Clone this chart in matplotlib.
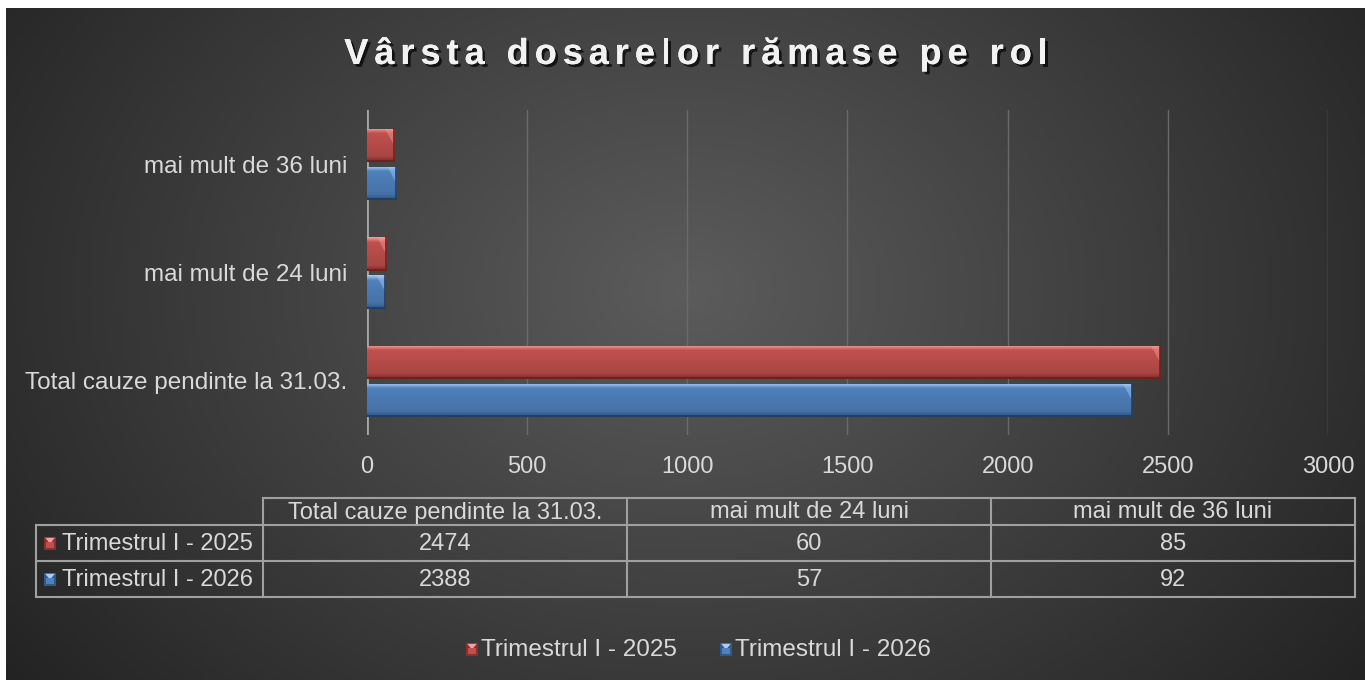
import numpy as np
import matplotlib
matplotlib.use("Agg")
import matplotlib.pyplot as plt
from matplotlib.patches import Rectangle, Polygon
from matplotlib.lines import Line2D
import matplotlib.patheffects as pe

# ---------------- data ----------------
categories = ["Total cauze pendinte la 31.03.", "mai mult de 24 luni", "mai mult de 36 luni"]
series_names = ["Trimestrul I - 2025", "Trimestrul I - 2026"]
values_2025 = [2474, 60, 85]
values_2026 = [2388, 57, 92]
x_ticks = [0, 500, 1000, 1500, 2000, 2500, 3000]
title = "Vârsta dosarelor rămase pe rol"

plt.rcParams['font.family'] = ['Liberation Sans', 'DejaVu Sans']
TXT = "#d9d9d9"
FS = 17

W, H = 1365, 680
fig = plt.figure(figsize=(W / 100, H / 100), dpi=100, facecolor="white")
renderer = fig.canvas.get_renderer()

def fx(px):
    return px / W

def fy(py):
    return 1 - py / H

# ---------------- background ----------------
bg = fig.add_axes([fx(6), 0, 1 - fx(6), fy(8)], zorder=-10)
gx, gy = np.meshgrid(np.linspace(0, 1, 400), np.linspace(0, 1, 200))
d = np.sqrt(((gx - 0.5) / 0.62) ** 2 + ((gy - 0.42) / 0.95) ** 2)
shade = np.clip(0.36 - 0.22 * d, 0.14, 0.36)
bg.imshow(np.dstack([shade] * 3), extent=[0, 1, 0, 1], aspect="auto", origin="upper")
bg.set_axis_off()

# ---------------- main axes ----------------
ax = fig.add_axes([fx(367), fy(435), fx(1328) - fx(367), fy(110) - fy(435)])
ax.set_facecolor("none")
ax.set_xlim(x_ticks[0], x_ticks[-1])
ax.set_ylim(-0.5, len(categories) - 0.5)

bar_h = 0.3
offs = [0.175, -0.175]
pal = {
    0: dict(light="#f0a09e", mid="#c0504d", dark="#8a2f2d", edge="#6e2220"),
    1: dict(light="#a9cdf5", mid="#4f81bd", dark="#30598d", edge="#223f66"),
}

def hex2rgb(h):
    return np.array(matplotlib.colors.to_rgb(h))

def draw_bar(y0, length, p):
    if length <= 0:
        return
    y_bot = y0 - bar_h / 2
    rect = Rectangle((0, y_bot), length, bar_h, facecolor=p["mid"], edgecolor="none", zorder=3)
    ax.add_patch(rect)
    n = 64
    t = np.linspace(0, 1, n)[:, None]
    L, M, D = hex2rgb(p["light"]), hex2rgb(p["mid"]), hex2rgb(p["dark"])
    col = np.where(t < 0.15, L + (M - L) * (t / 0.15),
                   np.where(t < 0.85, M + (M * 0.88 - M) * ((t - 0.15) / 0.7),
                            M * 0.88 + (D - M * 0.88) * ((t - 0.85) / 0.15)))
    img = np.repeat(col[:, None, :], 2, axis=1)
    im = ax.imshow(img, extent=[0, length, y_bot, y_bot + bar_h], aspect="auto",
                   origin="upper", zorder=3.1, interpolation="bilinear")
    im.set_clip_path(rect)
    bw = min(length * 0.5, 28.0)
    tri = Polygon([[length - bw, y_bot + bar_h], [length, y_bot + bar_h], [length, y_bot + bar_h * 0.5]],
                  closed=True, facecolor=p["light"], alpha=0.45, edgecolor="none", zorder=3.2)
    ax.add_patch(tri)
    ax.add_line(Line2D([length, length], [y_bot, y_bot + bar_h], color=p["edge"], lw=1.2, zorder=3.3))
    ax.add_line(Line2D([0, length], [y_bot, y_bot], color=p["edge"], lw=1.5, zorder=3.3))

ypos = np.arange(len(categories))
for si, vals in enumerate([values_2025, values_2026]):
    for i, v in enumerate(vals):
        draw_bar(ypos[i] + offs[si], v, pal[si])

ax.set_xticks(x_ticks)
ax.set_xticklabels([str(t) for t in x_ticks], color=TXT, fontsize=FS)
ax.set_yticks(ypos)
ax.set_yticklabels(categories, color=TXT, fontsize=17.5)
ax.tick_params(axis="x", length=0, pad=15)
ax.tick_params(axis="y", length=0, pad=14)
ax.grid(axis="x", color="#6a6a6a", lw=1)
ax.set_axisbelow(True)
for s in ax.spines.values():
    s.set_visible(False)
ax.axvline(0, color="#a6a6a6", lw=2, zorder=2.5)

# ---------------- title (letter-spaced) ----------------
TFS = 26
spacing = 6.0
shadow = [pe.withSimplePatchShadow(offset=(2, -2), shadow_rgbFace="black", alpha=0.7), pe.Normal()]

def text_w(s):
    t = fig.text(0, 0, s, fontsize=TFS, fontweight="bold")
    w = t.get_window_extent(renderer).width
    t.remove()
    return w

wx = text_w("x")
adv = []
for i in range(len(title)):
    adv.append(text_w(title[:i] + "x") - wx if i > 0 else 0.0)
total = text_w(title) + spacing * (len(title) - 1)
x0 = 696 - total / 2
for i, ch in enumerate(title):
    if ch == " ":
        continue
    fig.text(fx(x0 + adv[i] + spacing * i), fy(64), ch, ha="left", va="baseline",
             fontsize=TFS, fontweight="bold", color="#f2f2f2", path_effects=shadow)

# ---------------- data table ----------------
cols = [36, 263, 627, 991, 1355]
rows = [498, 525, 561, 597]
LC = "#a0a0a0"
def hline(x0_, x1_, y):
    fig.add_artist(Line2D([fx(x0_), fx(x1_)], [fy(y), fy(y)], color=LC, lw=1.5))
def vline(x, y0_, y1_):
    fig.add_artist(Line2D([fx(x), fx(x)], [fy(y0_), fy(y1_)], color=LC, lw=1.5))

hline(cols[1], cols[-1], rows[0])
for r in rows[1:]:
    hline(cols[0], cols[-1], r)
vline(cols[0], rows[1], rows[-1])
for c in cols[1:]:
    vline(c, rows[0], rows[-1])

for j, cat in enumerate(categories):
    cx = (cols[j + 1] + cols[j + 2]) / 2
    fig.text(fx(cx), fy((rows[0] + rows[1]) / 2 + 1), cat, ha="center", va="center", fontsize=FS, color=TXT)

def marker(x, y, p, w=12, h=13):
    m = fig.add_axes([fx(x), fy(y + h / 2), fx(w), h / H])
    m.set_xlim(0, 1); m.set_ylim(0, 1); m.set_axis_off()
    m.add_patch(Rectangle((0, 0), 1, 1, facecolor=p["dark"], edgecolor="none"))
    m.add_patch(Polygon([[0.1, 0.9], [0.9, 0.9], [0.5, 0.45]], facecolor=p["light"], edgecolor="none"))
    m.add_patch(Rectangle((0.15, 0.1), 0.7, 0.45, facecolor=p["mid"], edgecolor="none"))

for si, (name, vals) in enumerate(zip(series_names, [values_2025, values_2026])):
    yc = (rows[si + 1] + rows[si + 2]) / 2
    marker(44, yc, pal[si])
    fig.text(fx(62), fy(yc + 1), name, ha="left", va="center", fontsize=FS, color=TXT)
    for j, v in enumerate(vals):
        cx = (cols[j + 1] + cols[j + 2]) / 2
        fig.text(fx(cx), fy(yc + 1), str(v), ha="center", va="center", fontsize=FS, color=TXT)

# ---------------- legend ----------------
leg_y = 649
leg_x = [466, 720]
for si, name in enumerate(series_names):
    marker(leg_x[si], leg_y, pal[si])
    fig.text(fx(leg_x[si] + 15), fy(leg_y + 1), name, ha="left", va="center", fontsize=17.5, color=TXT)

fig.savefig("out.png", dpi=100, facecolor="white")
